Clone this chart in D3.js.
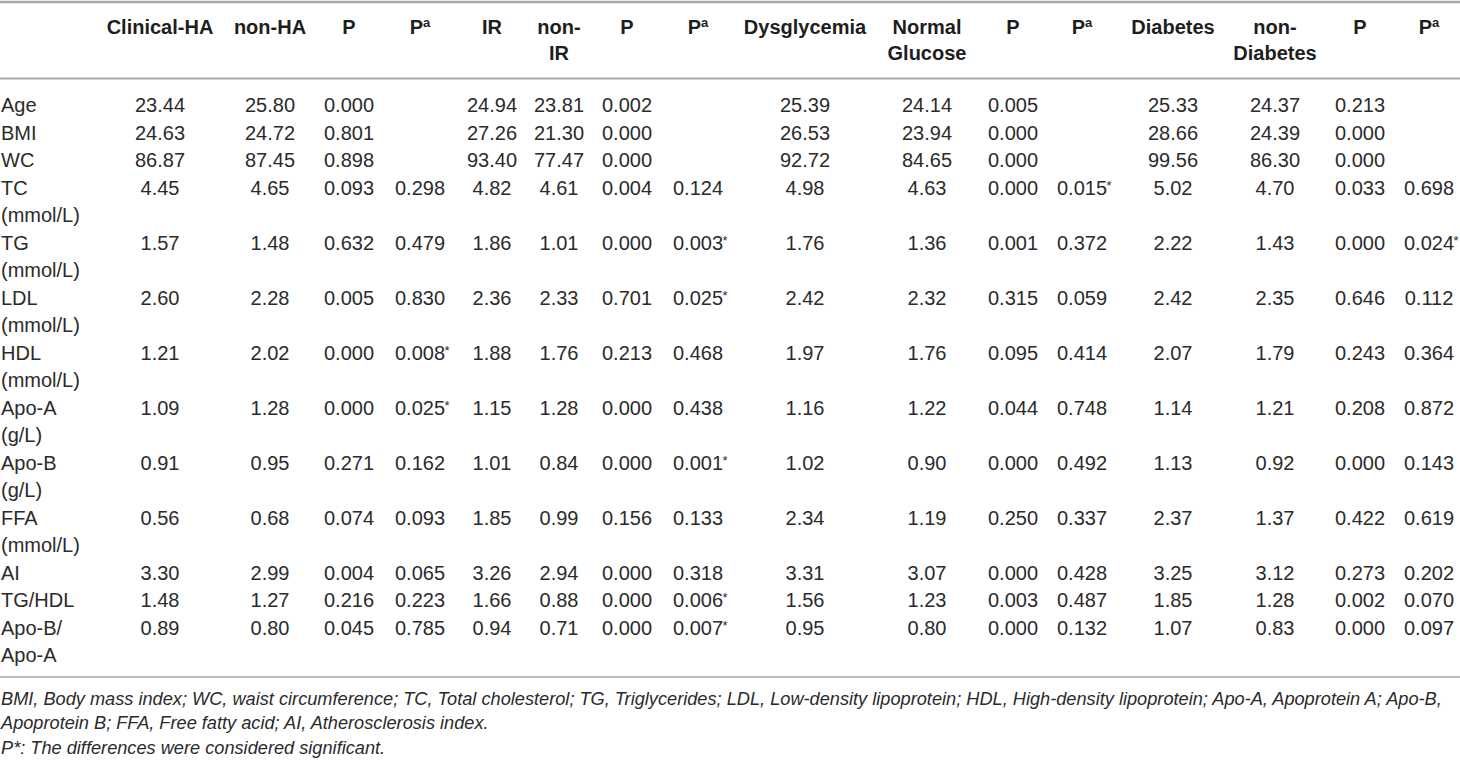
<!DOCTYPE html>
<html>
<head>
<meta charset="utf-8">
<script src="https://cdn.jsdelivr.net/npm/d3@7"></script>
<style>
html,body{margin:0;padding:0;background:#fff;}
svg{display:block;}
</style>
</head>
<body>
<svg id="chart" width="1460" height="760"></svg>
<script>
// ---------- data ----------
const headers = [["Clinical-HA"],["non-HA"],["P"],["P^a"],["IR"],["non-","IR"],["P"],["P^a"],
  ["Dysglycemia"],["Normal","Glucose"],["P"],["P^a"],["Diabetes"],["non-","Diabetes"],["P"],["P^a"]];

const rowLabels = [["Age"],["BMI"],["WC"],["TC","(mmol/L)"],["TG","(mmol/L)"],["LDL","(mmol/L)"],
  ["HDL","(mmol/L)"],["Apo-A","(g/L)"],["Apo-B","(g/L)"],["FFA","(mmol/L)"],["AI"],["TG/HDL"],["Apo-B/","Apo-A"]];

const clinicalHA = ["23.44","24.63","86.87","4.45","1.57","2.60","1.21","1.09","0.91","0.56","3.30","1.48","0.89"];
const nonHA      = ["25.80","24.72","87.45","4.65","1.48","2.28","2.02","1.28","0.95","0.68","2.99","1.27","0.80"];
const pHA        = ["0.000","0.801","0.898","0.093","0.632","0.005","0.000","0.000","0.271","0.074","0.004","0.216","0.045"];
const paHA       = ["","","","0.298","0.479","0.830","0.008*","0.025*","0.162","0.093","0.065","0.223","0.785"];
const ir         = ["24.94","27.26","93.40","4.82","1.86","2.36","1.88","1.15","1.01","1.85","3.26","1.66","0.94"];
const nonIR      = ["23.81","21.30","77.47","4.61","1.01","2.33","1.76","1.28","0.84","0.99","2.94","0.88","0.71"];
const pIR        = ["0.002","0.000","0.000","0.004","0.000","0.701","0.213","0.000","0.000","0.156","0.000","0.000","0.000"];
const paIR       = ["","","","0.124","0.003*","0.025*","0.468","0.438","0.001*","0.133","0.318","0.006*","0.007*"];
const dysgly     = ["25.39","26.53","92.72","4.98","1.76","2.42","1.97","1.16","1.02","2.34","3.31","1.56","0.95"];
const normalGlu  = ["24.14","23.94","84.65","4.63","1.36","2.32","1.76","1.22","0.90","1.19","3.07","1.23","0.80"];
const pGlu       = ["0.005","0.000","0.000","0.000","0.001","0.315","0.095","0.044","0.000","0.250","0.000","0.003","0.000"];
const paGlu      = ["","","","0.015*","0.372","0.059","0.414","0.748","0.492","0.337","0.428","0.487","0.132"];
const diabetes   = ["25.33","28.66","99.56","5.02","2.22","2.42","2.07","1.14","1.13","2.37","3.25","1.85","1.07"];
const nonDiab    = ["24.37","24.39","86.30","4.70","1.43","2.35","1.79","1.21","0.92","1.37","3.12","1.28","0.83"];
const pDiab      = ["0.213","0.000","0.000","0.033","0.000","0.646","0.243","0.208","0.000","0.422","0.273","0.002","0.000"];
const paDiab     = ["","","","0.698","0.024*","0.112","0.364","0.872","0.143","0.619","0.202","0.070","0.097"];

const columns = [clinicalHA,nonHA,pHA,paHA,ir,nonIR,pIR,paIR,dysgly,normalGlu,pGlu,paGlu,diabetes,nonDiab,pDiab,paDiab];

const footnotes = [
  "BMI, Body mass index; WC, waist circumference; TC, Total cholesterol; TG, Triglycerides; LDL, Low-density lipoprotein; HDL, High-density lipoprotein; Apo-A, Apoprotein A; Apo-B,",
  "Apoprotein B; FFA, Free fatty acid; AI, Atherosclerosis index.",
  "P*: The differences were considered significant."
];

// ---------- layout ----------
const colCenters = [160,270,349,420,492,559,627,698,805,927,1013,1082,1173,1275,1360,1429];
const x = d3.scaleOrdinal().domain(d3.range(columns.length)).range(colCenters);

// line index -> vertical centre
const y = d3.scaleLinear().domain([0,20]).range([105,655]);

// starting line index of each row
const rowStart = [];
{ let k = 0; rowLabels.forEach(l => { rowStart.push(k); k += l.length; }); }

const svg = d3.select("#chart");
const FONT = "'Liberation Sans', Arial, Helvetica, sans-serif";
const textColor = "#2b2b2b";
const ruleColor = "#a9a9a9";

// rules
svg.append("line").attr("x1",0).attr("x2",1460).attr("y1",2).attr("y2",2)
  .attr("stroke",ruleColor).attr("stroke-width",2.5);
svg.append("line").attr("x1",0).attr("x2",1460).attr("y1",78.5).attr("y2",78.5)
  .attr("stroke",ruleColor).attr("stroke-width",2);
svg.append("line").attr("x1",0).attr("x2",1460).attr("y1",677).attr("y2",677)
  .attr("stroke",ruleColor).attr("stroke-width",1.5);

// headers
const hY = [34, 60];
const hg = svg.append("g").attr("font-family",FONT).attr("font-weight","bold")
  .attr("font-size",20).attr("fill","#1e1e1e").attr("text-anchor","middle");
headers.forEach((lines,i) => {
  lines.forEach((ln,j) => {
    const t = hg.append("text").attr("x",x(i)).attr("y",hY[j]);
    if (ln.includes("^")) {
      const [a,b] = ln.split("^");
      t.append("tspan").text(a);
      t.append("tspan").attr("font-size",13).attr("dy",-7).text(b);
    } else t.text(ln);
  });
});

// row labels
const bg = svg.append("g").attr("font-family",FONT).attr("font-size",20).attr("fill",textColor);
rowLabels.forEach((lines,r) => {
  lines.forEach((ln,j) => {
    bg.append("text").attr("x",1).attr("y",y(rowStart[r]+j)+7).text(ln);
  });
});

// values
columns.forEach((col,ci) => {
  col.forEach((v,r) => {
    if (!v) return;
    const star = v.endsWith("*");
    const num = star ? v.slice(0,-1) : v;
    const t = bg.append("text").attr("x",x(ci)).attr("y",y(rowStart[r])+7)
      .attr("text-anchor","middle").text(num);
    if (star) {
      const w = t.node().getComputedTextLength();
      bg.append("text").attr("x",x(ci)+w/2-0.5).attr("y",y(rowStart[r])+2)
        .attr("font-size",13).text("*");
    }
  });
});

// footnotes
const fg = svg.append("g").attr("font-family",FONT).attr("font-size",18.2)
  .attr("font-style","italic").attr("fill",textColor);
const fY = [704.5, 728.5, 753.5];
footnotes.forEach((f,i) => fg.append("text").attr("x",1).attr("y",fY[i]).text(f));
</script>
</body>
</html>
